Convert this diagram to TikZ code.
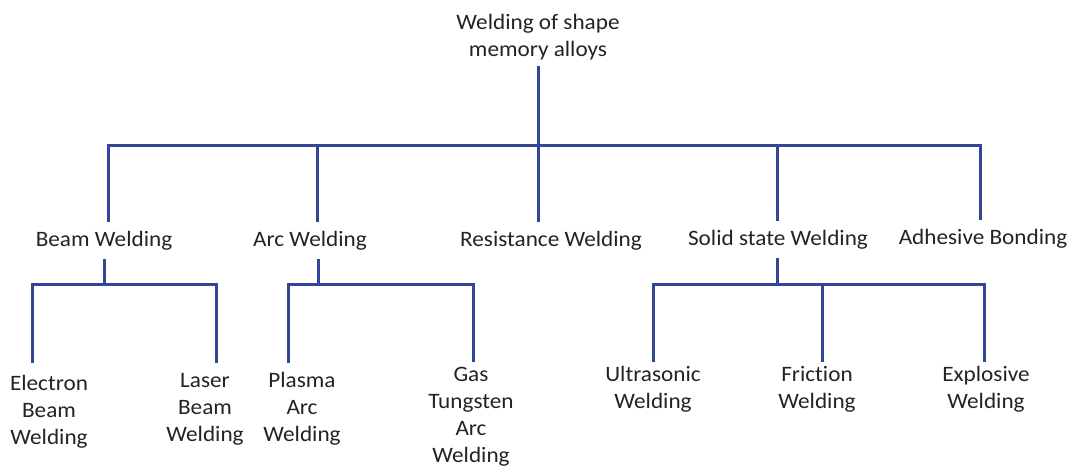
\documentclass[tikz,border=0pt]{standalone}
\usepackage{fontspec}
\setmainfont{Carlito}[FakeStretch=1.055,Ligatures=NoCommon]
\definecolor{linkblue}{RGB}{50,70,152}
\definecolor{txtgray}{RGB}{35,35,35}
\newcommand{\stk}[1]{\begin{tabular}[t]{@{}c@{}}#1\end{tabular}}
\tikzset{
  lbl/.style={font=\fontsize{22}{27}\selectfont, text=txtgray, anchor=base, inner xsep=0pt},
  link/.style={draw=linkblue, line width=3pt, line join=miter}
}
\begin{document}
\begin{tikzpicture}[x=1pt,y=-1pt]
\useasboundingbox (0,0) rectangle (1073,468);
% root
\node[lbl, inner ysep=1pt] (root) at (538,30) {\stk{Welding of shape\\memory alloys}};
% level 2
\node[lbl, inner ysep=5.1pt] (beam)  at (104,246) {\stk{Beam Welding}};
\node[lbl, inner ysep=5.1pt] (arc)   at (310,246) {\stk{Arc Welding}};
\node[lbl, inner ysep=5.1pt] (res)   at (551,246) {\stk{Resistance Welding}};
\node[lbl, inner ysep=5.1pt] (solid) at (778,245) {\stk{Solid state Welding}};
\node[lbl, inner ysep=5.1pt] (adh)   at (983,244) {\stk{Adhesive Bonding}};
% leaves
\node[lbl, inner ysep=8.1pt] (ebw) at (49,390)  {\stk{Electron\\Beam\\Welding}};
\node[lbl, inner ysep=5.1pt] (lbw) at (205,387) {\stk{Laser\\Beam\\Welding}};
\node[lbl, inner ysep=5.1pt] (paw) at (302,387) {\stk{Plasma\\Arc\\Welding}};
\node[lbl, inner ysep=0pt]   (gta) at (471,381) {\stk{Gas\\Tungsten\\Arc\\Welding}};
\node[lbl, inner ysep=0pt]   (usw) at (653,381) {\stk{Ultrasonic\\Welding}};
\node[lbl, inner ysep=0pt]   (frw) at (817,381) {\stk{Friction\\Welding}};
\node[lbl, inner ysep=0pt]   (exw) at (986,381) {\stk{Explosive\\Welding}};
% hubs
\coordinate (hub) at (538,145);
\coordinate (beamhub) at (104,284);
\coordinate (archub) at (318,284);
\coordinate (solidhub) at (777,284);
% root connectors
\draw[link] (root.south) -- (hub);
\draw[link] (hub) -| ([xshift=4pt]beam.north);
\draw[link] (hub) -| ([xshift=7pt]arc.north);
\draw[link] (hub) -| ([xshift=-13pt]res.north);
\draw[link] (hub) -| ([xshift=-1pt]solid.north);
\draw[link] (hub) -| ([xshift=-3pt]adh.north);
% beam
\draw[link] (beam.south) -- (beamhub);
\draw[link] (beamhub) -| ([xshift=-17pt]ebw.north);
\draw[link] (beamhub) -| ([xshift=11pt]lbw.north);
% arc
\draw[link] ([xshift=8pt]arc.south) -- (archub);
\draw[link] (archub) -| ([xshift=-14pt]paw.north);
\draw[link] (archub) -| ([xshift=2pt]gta.north);
% solid
\draw[link] ([xshift=-1pt]solid.south) -- (solidhub);
\draw[link] (solidhub) -| (usw.north);
\draw[link] (solidhub) -| ([xshift=5pt]frw.north);
\draw[link] (solidhub) -| ([xshift=-2pt]exw.north);
\end{tikzpicture}
\end{document}
